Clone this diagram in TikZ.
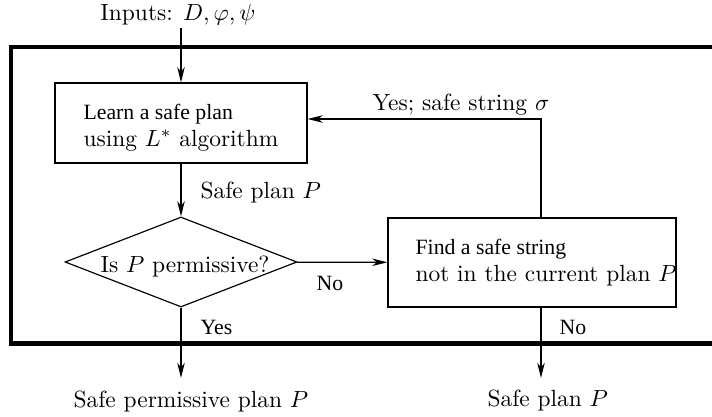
\documentclass[tikz,border=0pt]{standalone}
\usepackage{fontspec}
\newfontfamily\tms{Liberation Serif}
\usetikzlibrary{arrows.meta,shapes.geometric}
\begin{document}
\begin{tikzpicture}[x=0.427pt,y=-0.427pt, line width=0.5pt,
  >={Stealth[length=6.5pt,width=3.2pt,inset=2pt]},
  box/.style={draw, rectangle, inner sep=0pt},
  lbl/.style={inner sep=0pt, anchor=base west},
  tlbl/.style={lbl, font=\tms\fontsize{9.3}{11}\selectfont}]
\useasboundingbox (0,0) rectangle (712,416);
\draw[line width=1.8pt] (11,47) rectangle (722,343.5);
% boxes
\node[box, minimum width=107.6pt, minimum height=34.2pt] (learn) at (181,123) {};
\node[box, minimum width=123pt, minimum height=38pt] (find) at (532,262.5) {};
\node[draw, diamond, aspect=2.58, minimum width=99.06pt, minimum height=38.43pt, inner sep=0pt] (dec) at (181,262) {};
% texts
\node[inner sep=0pt, anchor=base] (inp) at (178,20) {Inputs: $D,\varphi,\psi$};
\node[tlbl] (l1) at (83,119) {Learn a safe plan};
\node[lbl] (l2) at (83,146) {using $L^*$ algorithm};
\node[lbl] (sp1) at (200,198) {Safe plan $P$};
\node[lbl] (isp) at (100,272) {Is $P$ permissive?};
\node[tlbl] (no1) at (316,290) {No};
\node[tlbl] (f1) at (415,254) {Find a safe string};
\node[lbl] (f2) at (415,281) {not in the current plan $P$};
\node[lbl] (yes1) at (372,110) {Yes; safe string $\sigma$};
\node[tlbl] (yes2) at (200,334) {Yes};
\node[tlbl] (no2) at (559,334) {No};
\node[lbl] (out1) at (73,407) {Safe permissive plan $P$};
\node[lbl] (out2) at (487,406) {Safe plan $P$};
% connectors
\coordinate (loopc) at (541,119);
\coordinate (t1) at (181,378);
\coordinate (t2) at (541,378);
\coordinate (s0) at (181,28);
\draw[->] (s0) -- (learn.north);
\draw[->] (learn) -- (dec);
\draw[->] (dec) -- (find);
\draw[->] (find.north -| loopc) |- (learn.east |- loopc);
\draw[->] (dec.south) -- (t1);
\draw[->] (find.south -| loopc) -- (t2);
\end{tikzpicture}
\end{document}
